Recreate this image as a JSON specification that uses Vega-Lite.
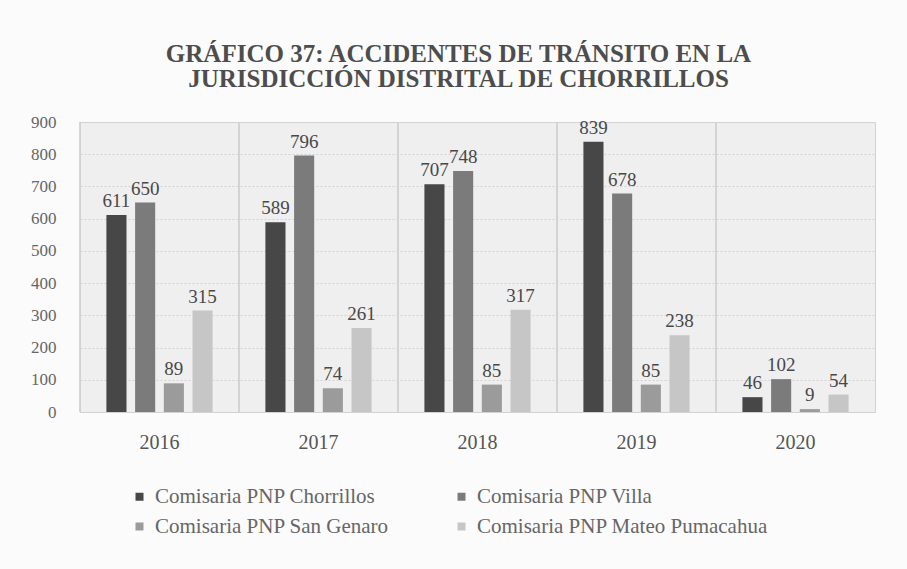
{
  "$schema": "https://vega.github.io/schema/vega-lite/v6.json",
  "width": 795,
  "height": 290,
  "autosize": {"type": "none"},
  "padding": {"left": 80, "top": 122, "right": 32, "bottom": 157},
  "background": "#fbfbfb",
  "title": {
    "text": ["GRÁFICO 37: ACCIDENTES DE TRÁNSITO EN LA", "JURISDICCIÓN DISTRITAL DE CHORRILLOS"],
    "font": "Liberation Serif",
    "fontSize": 25,
    "fontWeight": "bold",
    "color": "#4d4d4d",
    "lineHeight": 25,
    "anchor": "middle",
    "dx": -19,
    "offset": 21
  },
  "data": {
    "values": [
      {"year": "2016", "comisaria": "Comisaria PNP Chorrillos", "value": 611},
      {"year": "2016", "comisaria": "Comisaria PNP Villa", "value": 650},
      {"year": "2016", "comisaria": "Comisaria PNP San Genaro", "value": 89},
      {"year": "2016", "comisaria": "Comisaria PNP Mateo Pumacahua", "value": 315},
      {"year": "2017", "comisaria": "Comisaria PNP Chorrillos", "value": 589},
      {"year": "2017", "comisaria": "Comisaria PNP Villa", "value": 796},
      {"year": "2017", "comisaria": "Comisaria PNP San Genaro", "value": 74},
      {"year": "2017", "comisaria": "Comisaria PNP Mateo Pumacahua", "value": 261},
      {"year": "2018", "comisaria": "Comisaria PNP Chorrillos", "value": 707},
      {"year": "2018", "comisaria": "Comisaria PNP Villa", "value": 748},
      {"year": "2018", "comisaria": "Comisaria PNP San Genaro", "value": 85},
      {"year": "2018", "comisaria": "Comisaria PNP Mateo Pumacahua", "value": 317},
      {"year": "2019", "comisaria": "Comisaria PNP Chorrillos", "value": 839},
      {"year": "2019", "comisaria": "Comisaria PNP Villa", "value": 678},
      {"year": "2019", "comisaria": "Comisaria PNP San Genaro", "value": 85},
      {"year": "2019", "comisaria": "Comisaria PNP Mateo Pumacahua", "value": 238},
      {"year": "2020", "comisaria": "Comisaria PNP Chorrillos", "value": 46},
      {"year": "2020", "comisaria": "Comisaria PNP Villa", "value": 102},
      {"year": "2020", "comisaria": "Comisaria PNP San Genaro", "value": 9},
      {"year": "2020", "comisaria": "Comisaria PNP Mateo Pumacahua", "value": 54}
    ]
  },
  "layer": [
    {
      "mark": {"type": "rule", "color": "#d2d2d2", "strokeWidth": 1},
      "encoding": {
        "x": {
          "field": "year", "type": "ordinal", "bandPosition": 0,
          "scale": {"paddingInner": 0, "paddingOuter": 0},
          "axis": {
            "title": null, "domain": false, "ticks": false, "grid": false,
            "labelAngle": 0, "labelFont": "Liberation Serif", "labelFontSize": 20,
            "labelColor": "#555555", "labelPadding": 20
          }
        }
      }
    },
    {
      "mark": {"type": "bar"},
      "encoding": {
        "x": {"field": "year", "type": "ordinal"},
        "xOffset": {
          "field": "comisaria", "type": "nominal",
          "sort": ["Comisaria PNP Chorrillos", "Comisaria PNP Villa", "Comisaria PNP San Genaro", "Comisaria PNP Mateo Pumacahua"],
          "scale": {"paddingInner": 0.3, "paddingOuter": 0.92}
        },
        "y": {
          "field": "value", "type": "quantitative",
          "scale": {"domain": [0, 900], "nice": false},
          "axis": {
            "title": null, "domain": false, "ticks": false,
            "values": [0, 100, 200, 300, 400, 500, 600, 700, 800, 900],
            "labelOverlap": false,
            "gridColor": "#d2d2d2", "gridDash": [2, 2],
            "labelFont": "Liberation Serif", "labelFontSize": 17,
            "labelColor": "#666666", "labelPadding": 24
          }
        },
        "color": {
          "field": "comisaria", "type": "nominal",
          "scale": {
            "domain": ["Comisaria PNP Chorrillos", "Comisaria PNP Villa", "Comisaria PNP San Genaro", "Comisaria PNP Mateo Pumacahua"],
            "range": ["#474747", "#7b7b7b", "#9b9b9b", "#c6c6c6"]
          },
          "legend": {
            "title": null, "orient": "none", "legendX": 49, "legendY": 364,
            "direction": "horizontal", "columns": 2, "columnPadding": 62, "rowPadding": 8,
            "symbolType": "square", "symbolSize": 64, "symbolStrokeWidth": 0,
            "labelFont": "Liberation Serif", "labelFontSize": 21, "labelColor": "#666666",
            "labelOffset": 5, "labelLimit": 400
          }
        }
      }
    },
    {
      "mark": {"type": "text", "baseline": "bottom", "dy": -4, "font": "Liberation Serif", "fontSize": 19, "color": "#484848"},
      "encoding": {
        "x": {"field": "year", "type": "ordinal"},
        "xOffset": {
          "field": "comisaria", "type": "nominal",
          "sort": ["Comisaria PNP Chorrillos", "Comisaria PNP Villa", "Comisaria PNP San Genaro", "Comisaria PNP Mateo Pumacahua"]
        },
        "y": {
          "field": "value", "type": "quantitative",
          "axis": {
            "title": null, "domain": false, "ticks": false,
            "values": [0, 100, 200, 300, 400, 500, 600, 700, 800, 900],
            "labelOverlap": false,
            "gridColor": "#d2d2d2", "gridDash": [2, 2],
            "labelFont": "Liberation Serif", "labelFontSize": 17,
            "labelColor": "#666666", "labelPadding": 24
          }
        },
        "text": {"field": "value", "type": "quantitative"}
      }
    }
  ],
  "config": {
    "view": {"fill": "#efefef", "stroke": "#d2d2d2"},
    "axis": {"labelFont": "Liberation Serif"}
  }
}
